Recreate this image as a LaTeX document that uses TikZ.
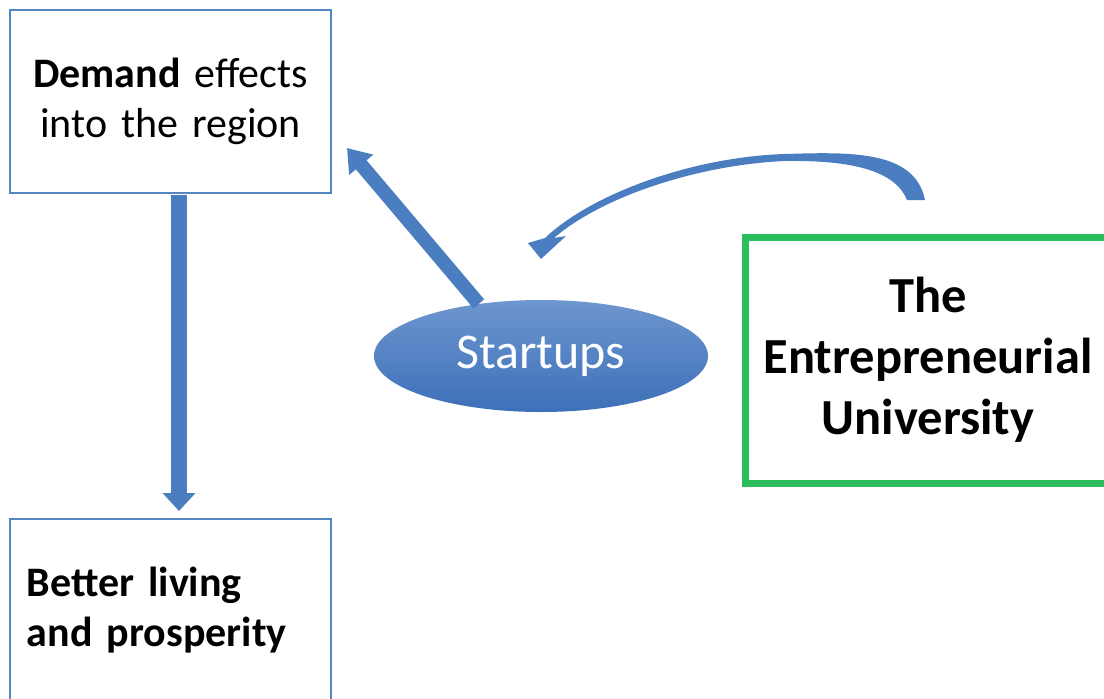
\documentclass[tikz,border=0pt]{standalone}
\usepackage{fontspec}
\setmainfont{Carlito}
\usetikzlibrary{arrows.meta,shapes.geometric}
\definecolor{boxblue}{RGB}{84,134,198}
\definecolor{arrowblue}{RGB}{74,126,193}
\definecolor{unigreen}{RGB}{44,190,92}
\definecolor{ovaltop}{RGB}{110,150,207}
\definecolor{ovalbot}{RGB}{60,112,184}
\newcommand\boxfont{\fontsize{42}{50}\selectfont}
\newcommand\unifont{\fontsize{50.5}{61}\selectfont\bfseries}

\begin{document}
\begin{tikzpicture}[x=1pt,y=-1pt]
  \useasboundingbox[fill=white] (0,0) rectangle (1104,699);

  \tikzstyle{bluebox}=[draw=boxblue,line width=2pt,minimum width=321pt,minimum height=183pt,inner xsep=17pt,text width=287pt,font=\boxfont]
  \tikzstyle{fatarrow}=[draw=arrowblue,fill=arrowblue]

  \node[bluebox,align=center] (demand) at (170.5,101.5) {\textbf{Demand} effects\\into the region};
  \node[bluebox,align=left] (better) at (170.5,610.5) {\textbf{Better living}\\\textbf{and prosperity}};
  \node[draw=unigreen,line width=7pt,minimum width=365pt,minimum height=246pt,align=center,font=\unifont] (university) at (928,360) {The\\Entrepreneurial\\University};
  \node[ellipse,minimum width=334pt,minimum height=112pt,inner sep=0pt,top color=ovaltop,bottom color=ovalbot,text=white,font=\fontsize{50}{60}\selectfont] (startups) at (541,356) {Startups};

  \coordinate (tipA) at (347,148);

  \draw[fatarrow,line width=16pt,-{Triangle[width=32pt,length=18pt]},shorten <=1pt,shorten >=7pt] ([xshift=8.5pt]demand.south) -- ([xshift=8.5pt]better.north);
  \draw[fatarrow,line width=14pt,-{Triangle[width=30pt,length=22pt]}] (startups.140) -- (tipA);

  % curved arrow from the university to the startups
  \fill[arrowblue] (925,200) .. controls (915,150) and (850,152) .. (785,154)
    .. controls (690,157) and (590,195) .. (545,238)
    -- (528,243) -- (541,259) -- (566,236) -- (554,238)
    .. controls (600,198) and (695,165) .. (785,161)
    .. controls (850,160) and (895,170) .. (907,200) -- cycle;
\end{tikzpicture}
\end{document}
